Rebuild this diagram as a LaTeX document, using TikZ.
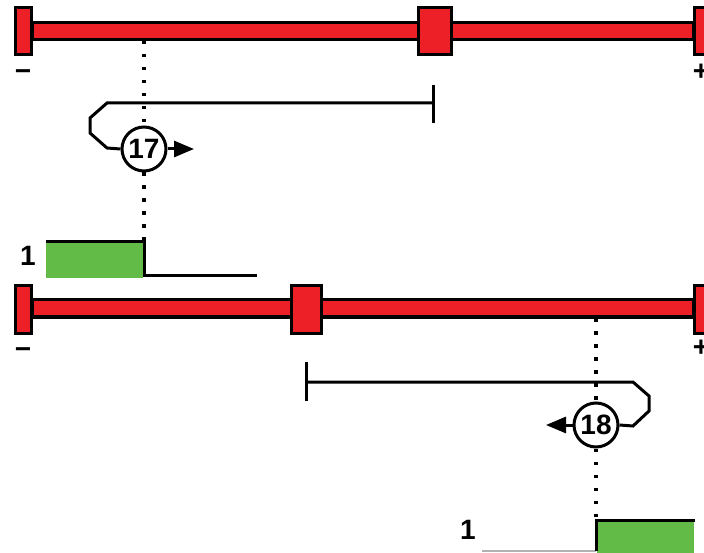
\documentclass[tikz,border=0pt]{standalone}
\usepackage{fontspec}
\setmainfont{Liberation Sans}
\usetikzlibrary{arrows.meta}
\definecolor{barred}{HTML}{ED1F27}
\definecolor{siggreen}{HTML}{62BB46}
\tikzset{
  barbody/.style={fill=barred,draw=black,line width=3pt},
  capbox/.style={fill=barred,draw=black,line width=3pt},
  loopline/.style={draw=black,line width=3pt},
  dotline/.style={draw=black,line width=3.5pt,dash pattern=on 3.5pt off 9.5pt},
  numcircle/.style={circle,draw=black,line width=3pt,fill=white,minimum size=44pt,inner sep=0pt,font=\fontsize{28}{30}\selectfont\bfseries},
  signtext/.style={font=\fontsize{28}{30}\selectfont\bfseries,inner sep=0pt},
  sigline/.style={draw=black,line width=3pt},
  arr/.style={-{Triangle[length=20pt,width=16pt]},line width=3pt}
}
\begin{document}
\begin{tikzpicture}[x=1pt,y=-1pt]
\useasboundingbox (0,0) rectangle (704,553);
\clip (0,0) rectangle (704,553);
% ---------- top bar ----------
\draw[barbody] (32,23) rectangle (693,40);
\draw[capbox] (15,8) rectangle (31,55);
\draw[capbox] (418,8) rectangle (451,55);
\draw[capbox] (694,8) rectangle (712,55);
\node[signtext] (m1) at (23,75) {−};
\node[signtext] (p1) at (701,72) {+};
\coordinate (d1top) at (144,41);
% loop 17
\coordinate (t17a) at (433,85);
\coordinate (t17b) at (433,123);
\coordinate (l17) at (433,103);
\node[numcircle] (c17) at (144,149) {17};
\coordinate (a17) at (194,149);
\draw[loopline] (t17a) -- (t17b);
\draw[loopline] (l17) -- (107,103) -- (90,118) -- (90,133) -- (107,148) -- (c17.west);
\draw[arr] (c17.east) -- (a17);
% signal 1 top
\fill[siggreen] (46,242) rectangle (143,278);
\coordinate (s1a) at (46,242);
\coordinate (s1b) at (144,242);
\coordinate (s1c) at (144,276);
\coordinate (s1d) at (257,276);
\draw[sigline] (s1a) -- (s1b) -- (s1c) -- (s1d);
\node[signtext] (one1) at (28,256) {1};
\draw[dotline] (d1top) -- (c17.north);
\draw[dotline] (c17.south) -- (s1b);
% ---------- bottom bar ----------
\draw[barbody] (32,300) rectangle (693,317);
\draw[capbox] (15,286) rectangle (31,333);
\draw[capbox] (291,286) rectangle (321,333);
\draw[capbox] (694,286) rectangle (712,333);
\node[signtext] (m2) at (23,353) {−};
\node[signtext] (p2) at (701,348) {+};
\coordinate (d2top) at (596,318);
% loop 18
\coordinate (t18a) at (306,362);
\coordinate (t18b) at (306,401);
\coordinate (l18) at (306,382);
\node[numcircle] (c18) at (596,425) {18};
\coordinate (a18) at (546,425);
\draw[loopline] (t18a) -- (t18b);
\draw[loopline] (l18) -- (633,382) -- (649,396) -- (649,411) -- (633,426) -- (c18.east);
\draw[arr] (c18.west) -- (a18);
% signal 1 bottom
\fill[siggreen] (597,520) rectangle (694,556);
\coordinate (s2a) at (482,551);
\coordinate (s2b) at (596,551);
\coordinate (s2c) at (596,520);
\coordinate (s2d) at (695,520);
\draw[gray!60,line width=1.5pt] (s2a) -- (s2b);
\draw[sigline] (s2b) -- (s2c) -- (s2d);
\node[signtext] (one2) at (468,530) {1};
\draw[dotline] (d2top) -- (c18.north);
\draw[dotline] (c18.south) -- (s2c);
\end{tikzpicture}
\end{document}
